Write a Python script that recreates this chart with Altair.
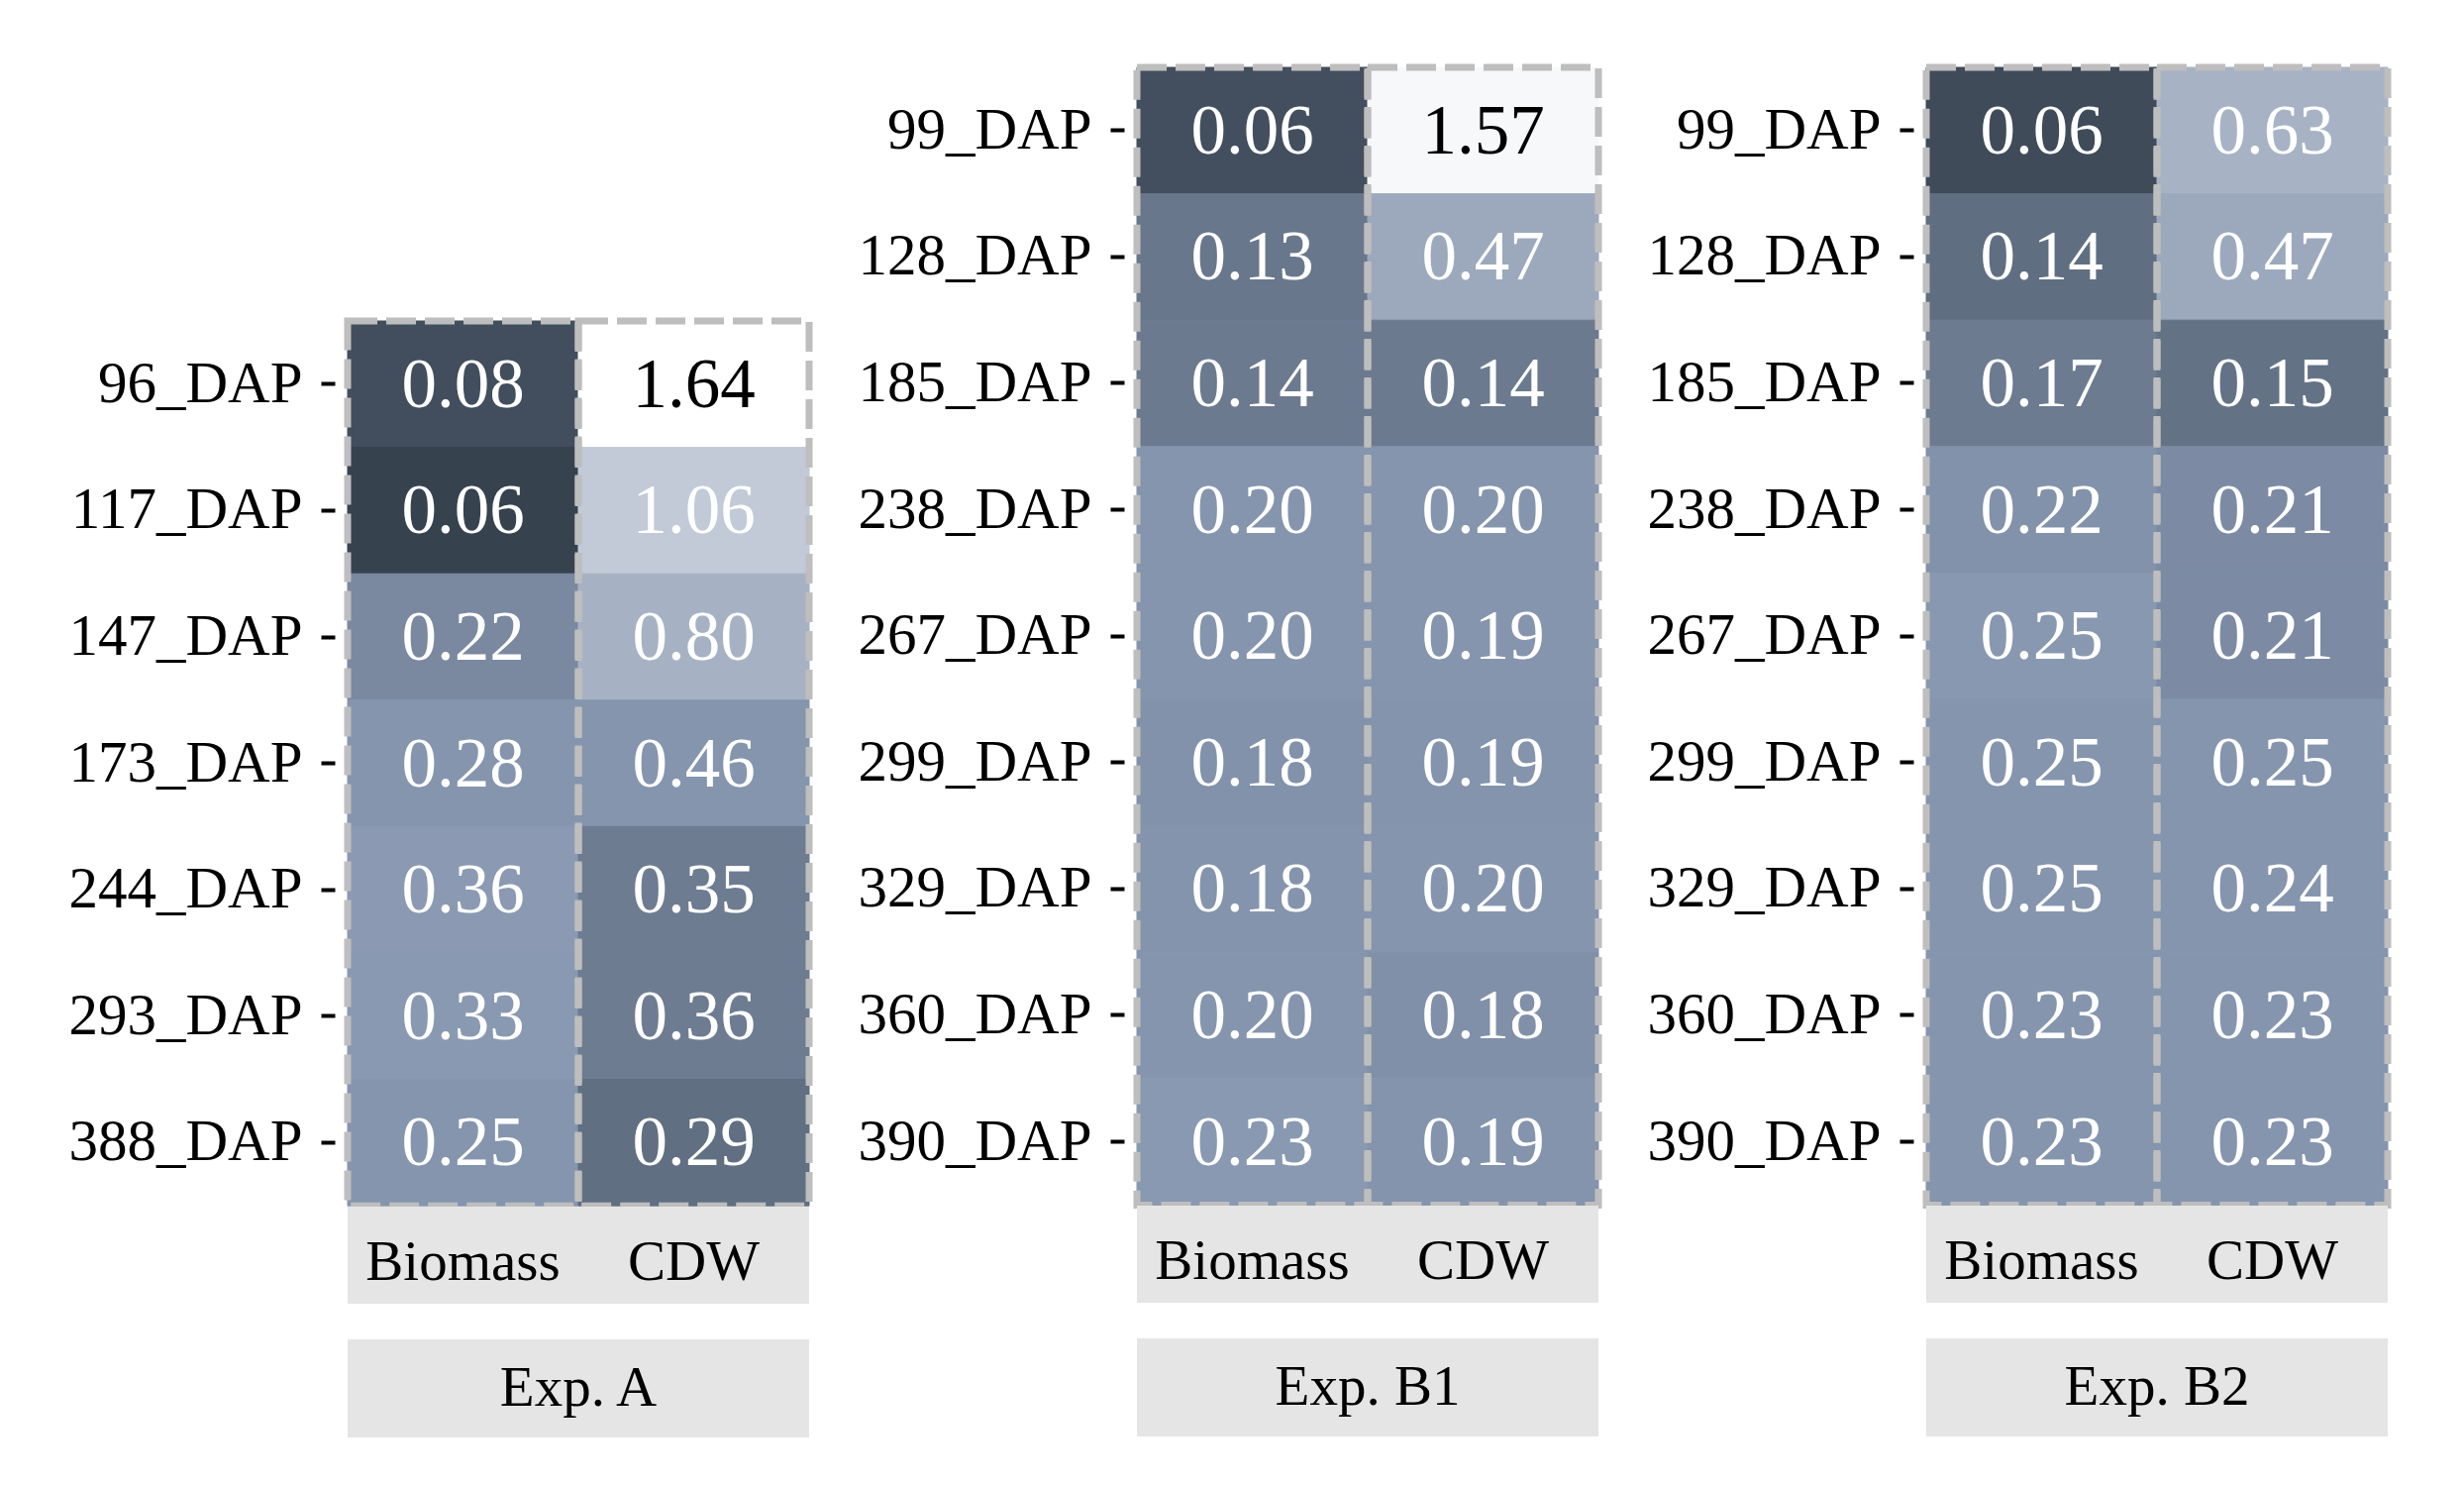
import altair as alt
import pandas as pd

# ---------------- data ----------------
VARS = ["Biomass", "CDW"]

A_rows = ["96_DAP", "117_DAP", "147_DAP", "173_DAP", "244_DAP", "293_DAP", "388_DAP"]
A_bio = [0.08, 0.06, 0.22, 0.28, 0.36, 0.33, 0.25]
A_cdw = [1.64, 1.06, 0.80, 0.46, 0.35, 0.36, 0.29]
A_bio_shade = [0.093, 0.022, 0.43, 0.50, 0.523, 0.517, 0.50]
A_cdw_shade = [1.00, 0.75, 0.635, 0.50, 0.357, 0.357, 0.28]

B_rows = ["99_DAP", "128_DAP", "185_DAP", "238_DAP", "267_DAP", "299_DAP",
          "329_DAP", "360_DAP", "390_DAP"]
B1_bio = [0.06, 0.13, 0.14, 0.20, 0.20, 0.18, 0.18, 0.20, 0.23]
B1_cdw = [1.57, 0.47, 0.14, 0.20, 0.19, 0.19, 0.20, 0.18, 0.19]
B1_bio_shade = [0.10, 0.33, 0.345, 0.50, 0.50, 0.48, 0.495, 0.50, 0.517]
B1_cdw_shade = [0.968, 0.593, 0.345, 0.50, 0.50, 0.495, 0.50, 0.47, 0.495]

B2_bio = [0.06, 0.14, 0.17, 0.22, 0.25, 0.25, 0.25, 0.23, 0.23]
B2_cdw = [0.63, 0.47, 0.15, 0.21, 0.21, 0.25, 0.24, 0.23, 0.23]
B2_bio_shade = [0.073, 0.275, 0.35, 0.48, 0.514, 0.50, 0.50, 0.50, 0.50]
B2_cdw_shade = [0.64, 0.593, 0.30, 0.445, 0.445, 0.50, 0.50, 0.50, 0.50]

EXPS = ["Exp. A", "Exp. B1", "Exp. B2"]

# ---------------- build table ----------------
recs = []
def add(exp, rows, bio, cdw, bio_s, cdw_s):
    for r, v, s in zip(rows, bio, bio_s):
        recs.append({"exp": exp, "row": r, "var": "Biomass", "value": v, "shade": s})
    for r, v, s in zip(rows, cdw, cdw_s):
        recs.append({"exp": exp, "row": r, "var": "CDW", "value": v, "shade": s})

add("Exp. A", A_rows, A_bio, A_cdw, A_bio_shade, A_cdw_shade)
add("Exp. B1", B_rows, B1_bio, B1_cdw, B1_bio_shade, B1_cdw_shade)
add("Exp. B2", B_rows, B2_bio, B2_cdw, B2_bio_shade, B2_cdw_shade)
df = pd.DataFrame(recs)

FONT = "Liberation Serif"
STEP = 127.6
W = 466

SHADE_SCALE = alt.Scale(domain=[0, 0.5, 1],
                        range=["#333e4b", "#8595ae", "#ffffff"],
                        interpolate="rgb")

def xenc():
    return alt.X("var:N", sort=VARS, axis=None,
                 scale=alt.Scale(paddingInner=0, paddingOuter=0))

def heatmap(exp, rows):
    d = df[df.exp == exp]
    y = alt.Y("row:N", sort=rows,
              scale=alt.Scale(paddingInner=0, paddingOuter=0),
              axis=alt.Axis(title=None, labelFont=FONT, labelFontSize=59,
                            labelColor="black", tickSize=14, tickWidth=4,
                            tickColor="black", domain=False, offset=13,
                            labelPadding=19, labelLimit=600, grid=False))
    base = alt.Chart(d)
    rect = base.mark_rect(strokeWidth=1).encode(
        x=xenc(), y=y,
        color=alt.Color("shade:Q", legend=None, scale=SHADE_SCALE),
        stroke=alt.Stroke("shade:Q", legend=None, scale=SHADE_SCALE))
    txt = base.mark_text(font=FONT, fontSize=71, baseline="middle", dy=2).encode(
        x=xenc(), y=y,
        text=alt.Text("value:Q", format=".2f"),
        color=alt.condition(alt.datum.shade > 0.9, alt.value("black"), alt.value("white")))
    frame = alt.Chart(pd.DataFrame({"var": VARS})).mark_rect(
        fillOpacity=0, stroke="#bebebe", strokeWidth=7, strokeDash=[30, 9]
    ).encode(x=xenc())
    return alt.layer(rect, txt, frame).properties(width=W, height=len(rows) * STEP)

def strip_vars():
    d = pd.DataFrame({"var": VARS})
    bg = alt.Chart(d).mark_rect(color="#e5e5e5").encode(x=xenc())
    tx = alt.Chart(d).mark_text(font=FONT, fontSize=57, color="black",
                                baseline="middle", dy=8).encode(x=xenc(), text="var:N")
    return alt.layer(bg, tx).properties(width=W, height=98)

def strip_exp(exp):
    d = pd.DataFrame({"exp": [exp]})
    xe = alt.X("exp:N", axis=None, scale=alt.Scale(paddingInner=0, paddingOuter=0))
    bg = alt.Chart(d).mark_rect(color="#e5e5e5").encode(x=xe)
    tx = alt.Chart(d).mark_text(font=FONT, fontSize=57, color="black",
                                baseline="middle").encode(x=xe, text="exp:N")
    return alt.layer(bg, tx).properties(width=W, height=99)

def spacer(h):
    return alt.Chart(pd.DataFrame({"s": [0]})).mark_point(opacity=0).encode(
        x=alt.value(0), y=alt.value(0)).properties(width=W, height=h)

colA = alt.vconcat(spacer(2 * STEP), heatmap("Exp. A", A_rows), strip_vars(),
                   spacer(36), strip_exp("Exp. A"), spacing=0, bounds="flush")
colB1 = alt.vconcat(heatmap("Exp. B1", B_rows), strip_vars(),
                    spacer(36), strip_exp("Exp. B1"), spacing=0, bounds="flush")
colB2 = alt.vconcat(heatmap("Exp. B2", B_rows), strip_vars(),
                    spacer(36), strip_exp("Exp. B2"), spacing=0, bounds="flush")

chart = alt.hconcat(colA, colB1, colB2, spacing=44).properties(
    padding={"left": 60, "top": 56, "right": 10, "bottom": 10},
    background="white",
).configure_view(stroke="transparent", strokeWidth=0)

chart.save("out.html", embed_options={"renderer": "svg", "actions": False})
